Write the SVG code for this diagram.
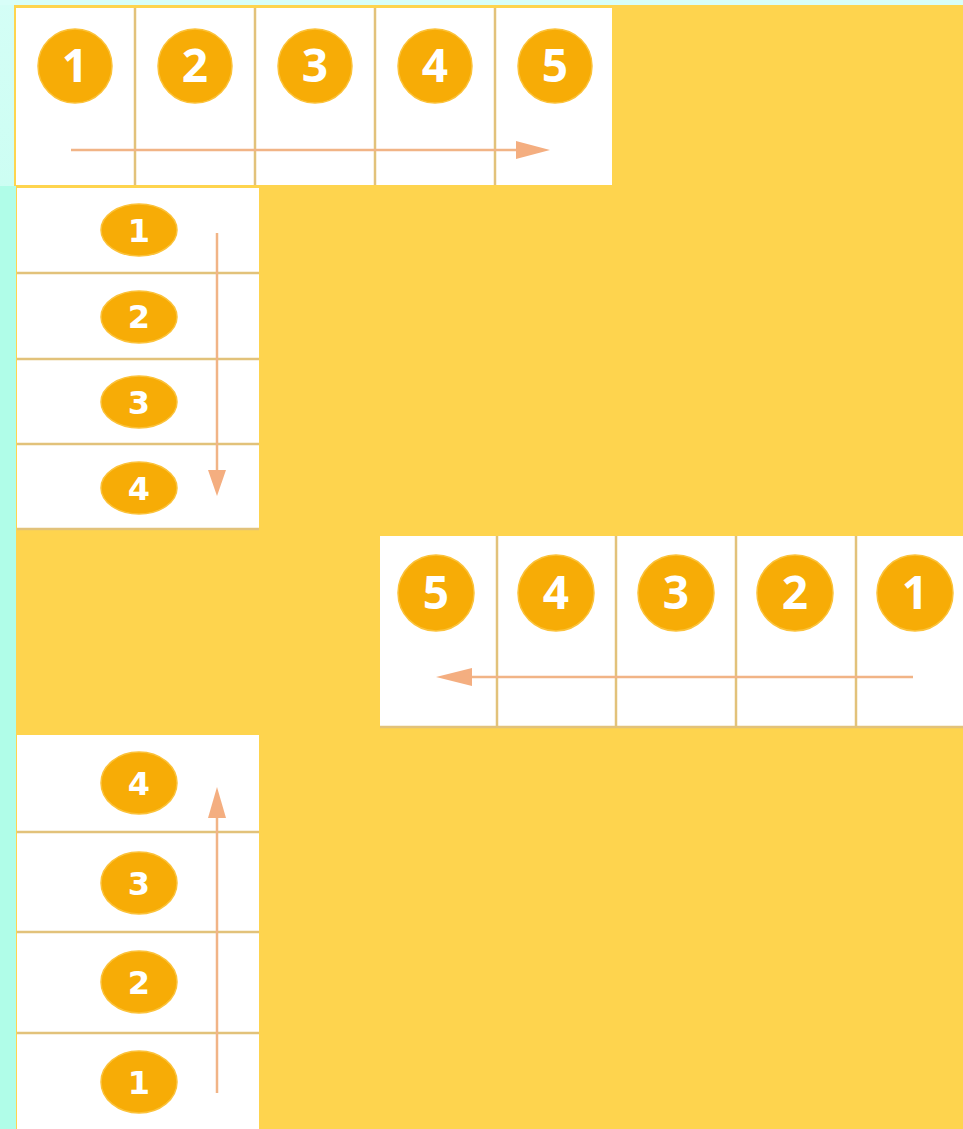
<svg xmlns="http://www.w3.org/2000/svg" width="963" height="1129" viewBox="0 0 963 1129">
<style>
.cell{fill:#FFFFFF;}
.div{stroke:#E2C27A;stroke-width:2.5;fill:none;}
.badge{fill:#F7AC06;stroke:#FBC23A;stroke-width:1.5;}
.num{fill:#FFFFFF;font-weight:bold;text-anchor:middle;}
.big{font-family:"Open Sans","DejaVu Sans",sans-serif;font-size:46px;}
.small{font-family:"DejaVu Sans","Open Sans",sans-serif;font-size:32px;}
.arrow{stroke:#F1B486;stroke-width:2.5;fill:none;}
.head{fill:#F4AE80;}
</style>
<defs>
<linearGradient id="cy" x1="0" y1="0" x2="0" y2="1">
<stop offset="0" stop-color="#D4FEF6"/>
<stop offset="1" stop-color="#A8FDE4"/>
</linearGradient>
</defs>
<rect x="0" y="0" width="963" height="1129" fill="url(#cy)"/>
<rect x="0" y="0" width="963" height="5" fill="#D8FEF8"/>
<rect x="14" y="5" width="949" height="1124" fill="#FED44E"/>
<rect x="0" y="186" width="16" height="943" fill="#B0FDE8"/>

<g id="row-horizontal-forward">
<rect class="cell" x="16" y="8" width="596" height="177"/>
<line class="div" x1="135" y1="8" x2="135" y2="185"/>
<line class="div" x1="255" y1="8" x2="255" y2="185"/>
<line class="div" x1="375" y1="8" x2="375" y2="185"/>
<line class="div" x1="495" y1="8" x2="495" y2="185"/>
<g id="h1-1"><circle class="badge" cx="75" cy="66" r="37"/><text class="num big" x="75" y="82">1</text></g>
<g id="h1-2"><circle class="badge" cx="195" cy="66" r="37"/><text class="num big" x="195" y="82">2</text></g>
<g id="h1-3"><circle class="badge" cx="315" cy="66" r="37"/><text class="num big" x="315" y="82">3</text></g>
<g id="h1-4"><circle class="badge" cx="435" cy="66" r="37"/><text class="num big" x="435" y="82">4</text></g>
<g id="h1-5"><circle class="badge" cx="555" cy="66" r="37"/><text class="num big" x="555" y="82">5</text></g>
</g>

<g id="col-vertical-down">
<rect class="cell" x="17" y="188" width="242" height="341"/>
<line class="div" x1="17" y1="273" x2="259" y2="273"/>
<line class="div" x1="17" y1="359" x2="259" y2="359"/>
<line class="div" x1="17" y1="444" x2="259" y2="444"/>
<line class="div" x1="17" y1="529" x2="259" y2="529"/>
<g id="v1-1"><ellipse class="badge" cx="139" cy="230" rx="38" ry="26"/><text class="num small" x="139" y="242">1</text></g>
<g id="v1-2"><ellipse class="badge" cx="139" cy="317" rx="38" ry="26"/><text class="num small" x="139" y="328">2</text></g>
<g id="v1-3"><ellipse class="badge" cx="139" cy="402" rx="38" ry="26"/><text class="num small" x="139" y="414">3</text></g>
<g id="v1-4"><ellipse class="badge" cx="139" cy="488" rx="38" ry="26"/><text class="num small" x="139" y="500">4</text></g>
</g>

<g id="row-horizontal-reverse">
<rect class="cell" x="380" y="536" width="583" height="191"/>
<line class="div" x1="497" y1="536" x2="497" y2="727"/>
<line class="div" x1="616" y1="536" x2="616" y2="727"/>
<line class="div" x1="736" y1="536" x2="736" y2="727"/>
<line class="div" x1="856" y1="536" x2="856" y2="727"/>
<line class="div" x1="380" y1="727" x2="963" y2="727"/>
<g id="h2-5"><circle class="badge" cx="436" cy="593" r="38"/><text class="num big" x="436" y="609">5</text></g>
<g id="h2-4"><circle class="badge" cx="556" cy="593" r="38"/><text class="num big" x="556" y="609">4</text></g>
<g id="h2-3"><circle class="badge" cx="676" cy="593" r="38"/><text class="num big" x="676" y="609">3</text></g>
<g id="h2-2"><circle class="badge" cx="795" cy="593" r="38"/><text class="num big" x="795" y="609">2</text></g>
<g id="h2-1"><circle class="badge" cx="915" cy="593" r="38"/><text class="num big" x="915" y="609">1</text></g>
</g>

<g id="col-vertical-up">
<rect class="cell" x="17" y="735" width="242" height="394"/>
<line class="div" x1="17" y1="832" x2="259" y2="832"/>
<line class="div" x1="17" y1="932" x2="259" y2="932"/>
<line class="div" x1="17" y1="1033" x2="259" y2="1033"/>
<g id="v2-4"><ellipse class="badge" cx="139" cy="783" rx="38" ry="31"/><text class="num small" x="139" y="795">4</text></g>
<g id="v2-3"><ellipse class="badge" cx="139" cy="883" rx="38" ry="31"/><text class="num small" x="139" y="895">3</text></g>
<g id="v2-2"><ellipse class="badge" cx="139" cy="982" rx="38" ry="31"/><text class="num small" x="139" y="994">2</text></g>
<g id="v2-1"><ellipse class="badge" cx="139" cy="1082" rx="38" ry="31"/><text class="num small" x="139" y="1094">1</text></g>
</g>

<g id="connectors">
<line class="arrow" x1="71" y1="150" x2="516" y2="150"/>
<polygon class="head" points="516,141 550,150 516,159"/>
<line class="arrow" x1="217" y1="233" x2="217" y2="472"/>
<polygon class="head" points="208,470 226,470 217,496"/>
<line class="arrow" x1="913" y1="677" x2="470" y2="677"/>
<polygon class="head" points="472,668 472,686 436,677"/>
<line class="arrow" x1="217" y1="1093" x2="217" y2="816"/>
<polygon class="head" points="208,818 226,818 217,787"/>
</g>
</svg>
